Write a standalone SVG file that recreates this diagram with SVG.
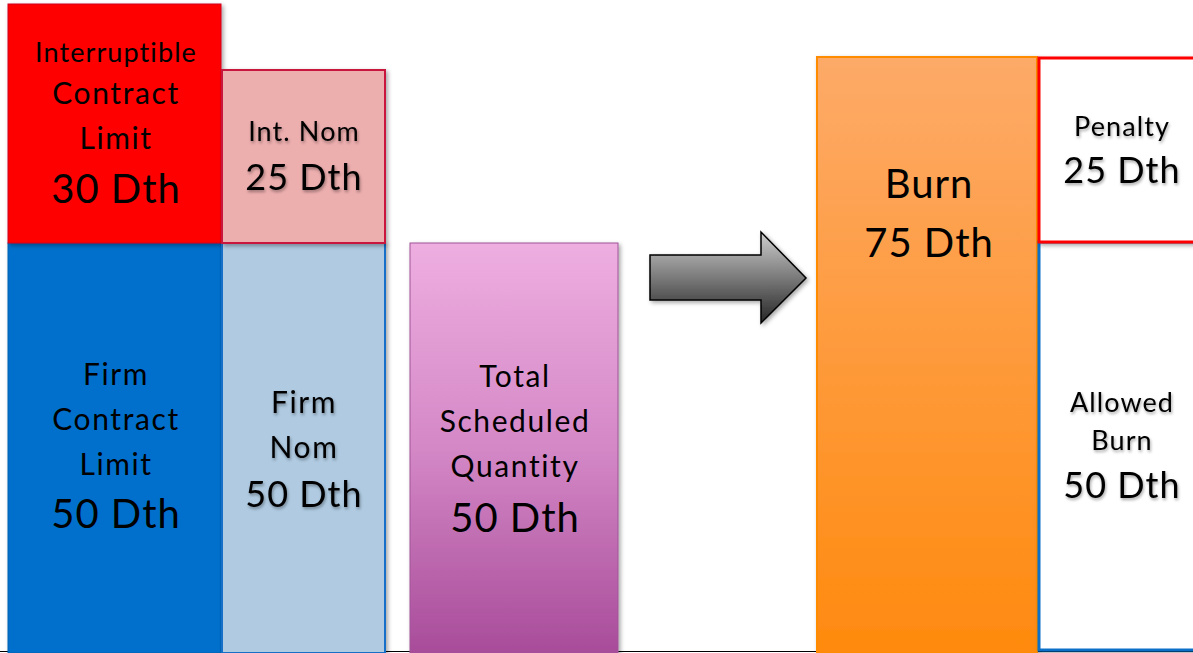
<svg xmlns="http://www.w3.org/2000/svg" width="1193" height="653" viewBox="0 0 1193 653">
<style>
text{font-family:Lato,"Open Sans","Liberation Sans",sans-serif;fill:#000;text-anchor:middle}
.s{font-size:27px;letter-spacing:1.1px}.m{font-size:30px;letter-spacing:1.6px}.l{font-size:40px;letter-spacing:1px}.ml{font-size:36px;letter-spacing:1px}
.sh{filter:url(#tsh)}
</style>
<defs>
<linearGradient id="gP" x1="0" y1="0" x2="0" y2="1"><stop offset="0" stop-color="#EEAEE0"/><stop offset="0.5" stop-color="#D488C6"/><stop offset="1" stop-color="#A84C9A"/></linearGradient>
<linearGradient id="gO" x1="0" y1="0" x2="0" y2="1"><stop offset="0" stop-color="#FDAA68"/><stop offset="1" stop-color="#FF8A0E"/></linearGradient>
<linearGradient id="gA" x1="0" y1="0" x2="0" y2="1"><stop offset="0" stop-color="#CFCFCF"/><stop offset="1" stop-color="#262626"/></linearGradient>
<filter id="bsh" x="-10%" y="-10%" width="120%" height="120%"><feDropShadow dx="2" dy="2" stdDeviation="2" flood-color="#000" flood-opacity="0.35"/></filter>
<filter id="tsh" x="-10%" y="-20%" width="120%" height="150%"><feDropShadow dx="1" dy="2" stdDeviation="1.5" flood-color="#000" flood-opacity="0.35"/></filter>
</defs>
<rect width="1193" height="653" fill="#fff"/>
<line x1="0" y1="651.5" x2="1193" y2="651.5" stroke="#000" stroke-width="1"/>
<g id="firm-contract">
<rect x="8" y="243" width="213" height="410" fill="#0070CC" stroke="#0062B0" stroke-width="1" filter="url(#bsh)"/>
<text class="m" x="116" y="385">Firm</text>
<text class="m" x="116" y="430">Contract</text>
<text class="m" x="116" y="475">Limit</text>
<text class="l" x="116" y="528">50 Dth</text>
</g>
<g id="int-contract">
<rect x="8" y="4" width="213" height="239" fill="#FF0000" stroke="#D00020" stroke-width="1" filter="url(#bsh)"/>
<text class="s" x="116" y="62">Interruptible</text>
<text class="m" x="116" y="104">Contract</text>
<text class="m" x="116" y="149">Limit</text>
<text class="l" x="116" y="203">30 Dth</text>
</g>
<g id="firm-nom">
<rect x="222" y="243" width="163" height="410" fill="#AFCAE1" stroke="#1270C8" stroke-width="2" filter="url(#bsh)"/>
<g class="sh">
<text class="m" x="304" y="413">Firm</text>
<text class="m" x="304" y="458">Nom</text>
<text class="ml" x="304" y="507">50 Dth</text>
</g>
</g>
<g id="int-nom">
<rect x="222" y="70" width="163" height="173" fill="#EDAEAE" stroke="#C8143C" stroke-width="2" filter="url(#bsh)"/>
<g class="sh">
<text class="s" x="304" y="141">Int. Nom</text>
<text class="ml" x="304" y="190">25 Dth</text>
</g>
</g>
<g id="total-scheduled">
<rect x="410" y="243" width="208" height="410" fill="url(#gP)" stroke="#A05498" stroke-width="1" filter="url(#bsh)"/>
<text class="m" x="515" y="387">Total</text>
<text class="m" x="515" y="432">Scheduled</text>
<text class="m" x="515" y="477">Quantity</text>
<text class="l" x="515" y="532">50 Dth</text>
</g>
<g id="connectors">
<path d="M650 255 H761 V232 L806 278 L761 323 V300 H650 Z" fill="url(#gA)" stroke="#000" stroke-width="1.5" stroke-linejoin="miter" filter="url(#bsh)"/>
</g>
<g id="burn">
<rect x="817" y="57" width="220" height="596" fill="url(#gO)" stroke="#FF8C00" stroke-width="2" filter="url(#bsh)"/>
<text class="l" x="929" y="198">Burn</text>
<text class="l" x="929" y="257">75 Dth</text>
</g>
<g id="allowed-burn">
<rect x="1039" y="242" width="160" height="408" fill="#fff" stroke="#0A70C8" stroke-width="3" filter="url(#bsh)"/>
<g class="sh">
<text class="s" x="1122" y="412">Allowed</text>
<text class="s" x="1122" y="450">Burn</text>
<text class="ml" x="1122" y="498">50 Dth</text>
</g>
</g>
<g id="penalty">
<rect x="1039" y="58" width="160" height="184" fill="#fff" stroke="#FF0000" stroke-width="3" filter="url(#bsh)"/>
<g class="sh">
<text class="s" x="1122" y="136">Penalty</text>
<text class="ml" x="1122" y="183">25 Dth</text>
</g>
</g>
</svg>
